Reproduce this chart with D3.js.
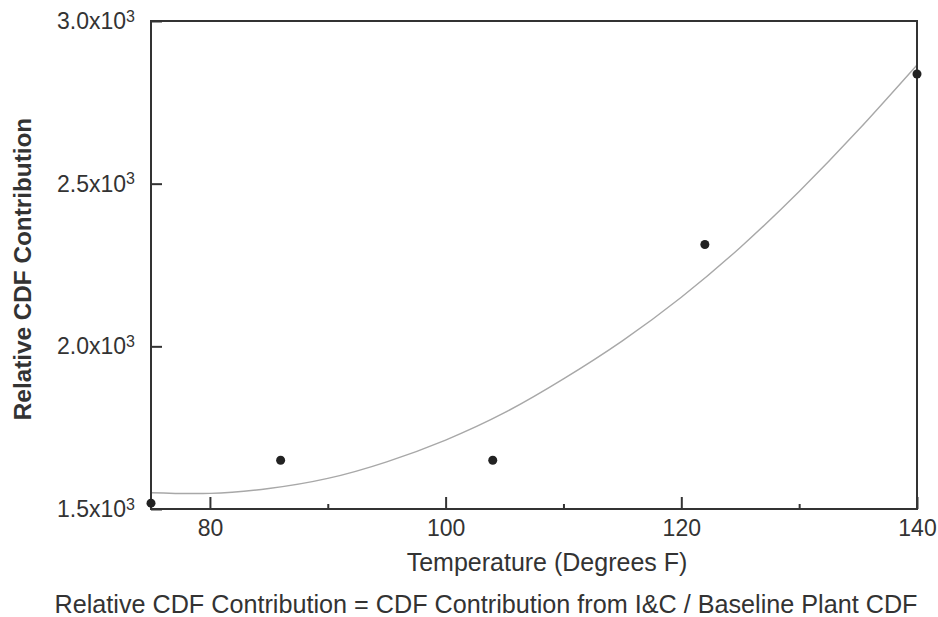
<!DOCTYPE html>
<html>
<head>
<meta charset="utf-8">
<script src="https://cdn.jsdelivr.net/npm/d3@7"></script>
<style>
  html, body { margin: 0; padding: 0; background: #fff; }
  svg { display: block; font-family: "Liberation Sans", Arial, sans-serif; }
</style>
</head>
<body>
<svg id="chart" width="938" height="617"></svg>
<script>
// Observed data points (Temperature °F, Relative CDF Contribution)
const temps = [75, 86, 104, 122, 140];
const relCDF = [1518, 1650, 1650, 2313, 2837];

// Fitted curve
const fitTemps = [75, 80, 85, 90, 95, 100, 105, 110, 115, 120, 125, 130, 135, 140];
const fitValues = [1550, 1548, 1563, 1594, 1645, 1712, 1796, 1900, 2017, 2151, 2304, 2476, 2664, 2865];

// Axis ticks
const xMajorTicks = [80, 100, 120, 140];
const xMinorTicks = [90, 110, 130];
const yTicks = [1500, 2000, 2500, 3000];
const yTickMantissa = ["1.5", "2.0", "2.5", "3.0"];

const xTitle = "Temperature (Degrees F)";
const yTitle = "Relative CDF Contribution";
const caption = "Relative CDF Contribution = CDF Contribution from I&C / Baseline Plant CDF";

const W = 938, H = 617;
const m = { left: 151, top: 21, right: 21, bottom: 108 };
const iw = W - m.left - m.right, ih = H - m.top - m.bottom;

const svg = d3.select("#chart");
const g = svg.append("g").attr("transform", `translate(${m.left},${m.top})`);

const x = d3.scaleLinear().domain([75, 140]).range([0, iw]);
const y = d3.scaleLinear().domain([1500, 3000]).range([ih, 0]);

const axisColor = "#333";

// fitted curve
const line = d3.line().x((d, i) => x(fitTemps[i])).y(d => y(d)).curve(d3.curveNatural);
g.append("path")
  .datum(fitValues)
  .attr("d", line)
  .attr("fill", "none")
  .attr("stroke", "#a8a8a8")
  .attr("stroke-width", 1.4);

// x axis major
const xAxis = d3.axisBottom(x).tickValues(xMajorTicks).tickSizeInner(-12).tickSizeOuter(0).tickPadding(11).tickFormat(d3.format("d"));
const gx = g.append("g").attr("transform", `translate(0,${ih})`).call(xAxis);
gx.select(".domain").remove();
gx.selectAll(".tick line").attr("stroke", axisColor).attr("stroke-width", 2);
gx.selectAll(".tick text").attr("font-size", 23).attr("fill", "#333").attr("font-family", "Liberation Sans, Arial, sans-serif");

// x axis minor
const xMinor = d3.axisBottom(x).tickValues(xMinorTicks).tickSizeInner(-5).tickSizeOuter(0).tickFormat("");
const gxm = g.append("g").attr("transform", `translate(0,${ih})`).call(xMinor);
gxm.select(".domain").remove();
gxm.selectAll(".tick line").attr("stroke", axisColor).attr("stroke-width", 2);

// y axis
const yAxis = d3.axisLeft(y).tickValues(yTicks).tickSizeInner(-11).tickSizeOuter(0).tickPadding(16).tickFormat("");
const gy = g.append("g").call(yAxis);
gy.select(".domain").remove();
gy.selectAll(".tick line").attr("stroke", axisColor).attr("stroke-width", 2);
gy.selectAll(".tick text").each(function(d, i) {
  const t = d3.select(this)
    .attr("font-size", 23)
    .attr("fill", "#333")
    .attr("font-family", "Liberation Sans, Arial, sans-serif")
    .attr("text-anchor", "end");
  t.text(null);
  t.append("tspan").text(yTickMantissa[yTicks.indexOf(d)] + "x10");
  t.append("tspan").attr("font-size", 16).attr("dy", "-0.45em").text("3");
});

// frame
g.append("rect")
  .attr("x", 0).attr("y", 0).attr("width", iw).attr("height", ih)
  .attr("fill", "none").attr("stroke", axisColor).attr("stroke-width", 2);

// points
g.selectAll("circle.pt")
  .data(relCDF)
  .join("circle")
  .attr("class", "pt")
  .attr("cx", (d, i) => x(temps[i]))
  .attr("cy", d => y(d))
  .attr("r", 4.5)
  .attr("fill", "#222");

// titles
svg.append("text")
  .attr("x", 547).attr("y", 571)
  .attr("text-anchor", "middle")
  .attr("font-size", 25).attr("fill", "#333")
  .text(xTitle);

svg.append("text")
  .attr("transform", `translate(31,269) rotate(-90)`)
  .attr("text-anchor", "middle")
  .attr("font-size", 24.3).attr("font-weight", "bold").attr("fill", "#333")
  .text(yTitle);

svg.append("text")
  .attr("x", 486).attr("y", 613)
  .attr("text-anchor", "middle")
  .attr("font-size", 25.2).attr("fill", "#333")
  .text(caption);
</script>
</body>
</html>
